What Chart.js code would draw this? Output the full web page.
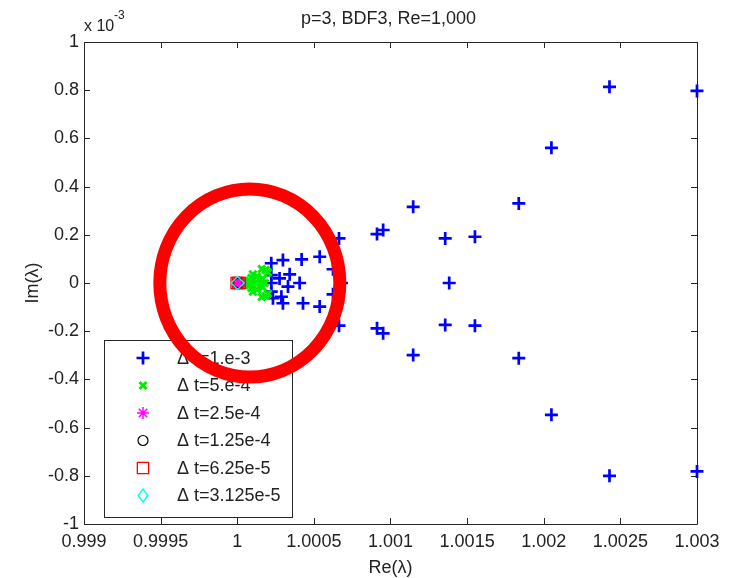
<!DOCTYPE html>
<html>
<head>
<meta charset="utf-8">
<script src="https://cdn.jsdelivr.net/npm/chart.js@4.4.1/dist/chart.umd.min.js"></script>
<style>
  html, body { margin: 0; padding: 0; background: #fff; }
</style>
</head>
<body>
<canvas id="eigChart" width="732" height="578"></canvas>
<script>
/* eigenvalue spectra, one array per time step (Re, Im) */
const dt1e3 = [
  [1.002429, 8.14e-4], [1.003000, 7.97e-4], [1.002050, 5.61e-4], [1.001837, 3.30e-4],
  [1.001148, 3.16e-4], [1.000912, 2.03e-4], [1.000952, 2.20e-4], [1.001357, 1.85e-4],
  [1.001551, 1.92e-4], [1.001383, 0], [1.000664, 1.85e-4], [1.000420, 0.98e-4],
  [1.000538, 1.09e-4], [1.000625, 0.57e-4], [1.000680, 0], [1.000407, 0],
  [1.000429, -0.84e-4], [1.000538, -0.98e-4], [1.000625, -0.47e-4], [1.000664, -1.77e-4],
  [1.000912, -1.88e-4], [1.000952, -2.09e-4], [1.001357, -1.74e-4], [1.001551, -1.77e-4],
  [1.001148, -2.99e-4], [1.001837, -3.12e-4], [1.002050, -5.47e-4], [1.002429, -8.00e-4],
  [1.003000, -7.82e-4],
  [1.000222, 0.82e-4], [1.000298, 0.95e-4], [1.000342, 0.36e-4], [1.000276, 0.19e-4],
  [1.000331, -0.15e-4], [1.000222, 0], [1.000288, -0.57e-4], [1.000233, -0.63e-4],
  [1.000298, -0.84e-4], [1.000222, -0.36e-4], [1.000222, 0.33e-4]
];
const dt5e4 = [
  [1.000045, 0], [1.000062, 0], [1.000080, 1.0e-5], [1.000080, -1.0e-5],
  [1.000093, 2.1e-5], [1.000093, -2.1e-5], [1.000102, 3.6e-5], [1.000102, -3.6e-5],
  [1.000118, 0], [1.000130, 2.7e-5], [1.000130, -2.7e-5], [1.000160, 5.8e-5],
  [1.000160, -5.8e-5], [1.000150, 0], [1.000165, 1.8e-5], [1.000165, -1.8e-5],
  [1.000185, 5.4e-5], [1.000185, -5.4e-5], [1.000180, 0], [1.000200, 4.4e-5],
  [1.000200, -4.4e-5]
];
const dt25e4 = [[1.000003, 0], [1.000012, 3e-6], [1.000012, -3e-6], [1.000020, 0]];
const dt125e4 = [[1.000001, 0], [1.000006, 2e-6], [1.000006, -2e-6]];
const dt625e5 = [[0.999996, 0], [1.000006, 0], [1.000016, 0]];
const dt3125e5 = [[1.000002, 0]];

const seriesLabels = ["Δ t=1.e-3", "Δ t=5.e-4", "Δ t=2.5e-4", "Δ t=1.25e-4", "Δ t=6.25e-5", "Δ t=3.125e-5"];
const seriesData = [dt1e3, dt5e4, dt25e4, dt125e4, dt625e5, dt3125e5];

const xMin = 0.999, xMax = 1.003, xStep = 0.0005;
const yMin = -0.001, yMax = 0.001, yStep = 0.0002;

/* circled region (annotation on the figure) */
const circleCenter = [1.000082, 0];

const FONT = '"Liberation Sans", Arial, sans-serif';
const INK = '#222222';

/* marker look per series */
const markers = [
  { style: "cross",    color: "#0000ff", r: 6.5, w: 2.7 },
  { style: "crossRot", color: "#00ee00", r: 5,   w: 3 },
  { style: "star",     color: "#ff00ff", r: 6,   w: 1.5 },
  { style: "circle",   color: "#000000", r: 5,   w: 1.2 },
  { style: "rect",     color: "#ff0000", r: 8,   w: 1.3 },
  { style: "rectRot",  color: "#00ffff", r: 6.5, w: 1.4 }
];

function buildDatasets() {
  return seriesData.map((pts, i) => ({
    label: seriesLabels[i],
    data: pts.map(p => ({ x: p[0], y: p[1] })),
    pointStyle: markers[i].style,
    pointRadius: markers[i].r,
    pointBorderWidth: markers[i].w,
    borderColor: markers[i].color,
    backgroundColor: "rgba(0,0,0,0)",
    showLine: false,
    clip: false,
    order: seriesData.length - i
  }));
}

/* legend marker drawn by hand */
function drawMarker(ctx, m, x, y) {
  ctx.save();
  ctx.strokeStyle = m.color;
  ctx.lineWidth = m.w;
  ctx.beginPath();
  const r = m.r;
  const d = r * Math.SQRT1_2;
  if (m.style === "cross" || m.style === "star") {
    ctx.moveTo(x - r, y); ctx.lineTo(x + r, y);
    ctx.moveTo(x, y - r); ctx.lineTo(x, y + r);
  }
  if (m.style === "crossRot" || m.style === "star") {
    ctx.moveTo(x - d, y - d); ctx.lineTo(x + d, y + d);
    ctx.moveTo(x - d, y + d); ctx.lineTo(x + d, y - d);
  }
  if (m.style === "circle") ctx.arc(x, y, r, 0, Math.PI * 2);
  if (m.style === "rect") ctx.rect(x - d, y - d, 2 * d, 2 * d);
  if (m.style === "rectRot") {
    ctx.moveTo(x, y - r); ctx.lineTo(x + r * 0.75, y);
    ctx.lineTo(x, y + r); ctx.lineTo(x - r * 0.75, y); ctx.closePath();
  }
  ctx.stroke();
  ctx.restore();
}

/* box + inward ticks on all four sides */
const axesBox = {
  id: "axesBox",
  beforeDatasetsDraw(chart) {
    const { ctx, chartArea: a, scales: { x, y } } = chart;
    const len = 6;
    ctx.save();
    ctx.strokeStyle = "#262626";
    ctx.lineWidth = 1;
    ctx.beginPath();
    ctx.rect(a.left + 0.5, a.top + 0.5, a.right - a.left, a.bottom - a.top);
    x.ticks.forEach(t => {
      const px = Math.round(x.getPixelForValue(t.value)) + 0.5;
      ctx.moveTo(px, a.bottom); ctx.lineTo(px, a.bottom - len);
      ctx.moveTo(px, a.top); ctx.lineTo(px, a.top + len);
    });
    y.ticks.forEach(t => {
      const py = Math.round(y.getPixelForValue(t.value)) + 0.5;
      ctx.moveTo(a.left, py); ctx.lineTo(a.left + len, py);
      ctx.moveTo(a.right, py); ctx.lineTo(a.right - len, py);
    });
    ctx.stroke();
    ctx.restore();
  }
};

/* titles, legend, exponent label, red circle */
const decorations = {
  id: "decorations",
  afterDraw(chart) {
    const { ctx, chartArea: a, scales: { x, y } } = chart;
    const cx = (a.left + a.right) / 2;
    ctx.save();
    ctx.fillStyle = INK;
    ctx.font = "18px " + FONT;
    ctx.textAlign = "center";
    ctx.textBaseline = "alphabetic";
    ctx.fillText("p=3, BDF3, Re=1,000", cx - 2, 24);
    ctx.fillText("Re(λ)", cx, 573);

    ctx.save();
    ctx.translate(33, (a.top + a.bottom) / 2);
    ctx.rotate(-Math.PI / 2);
    ctx.textBaseline = "middle";
    ctx.fillText("Im(λ)", 0, 0);
    ctx.restore();

    ctx.textAlign = "left";
    ctx.font = "16px " + FONT;
    ctx.fillText("x 10", a.left, 31);
    ctx.font = "12px " + FONT;
    ctx.fillText("-3", a.left + 30, 19);

    // legend box
    const lx = 104, ly = 340, lw = 188, lh = 177;
    ctx.fillStyle = "#ffffff";
    ctx.fillRect(lx, ly, lw, lh);
    ctx.strokeStyle = "#262626";
    ctx.lineWidth = 1;
    ctx.strokeRect(lx + 0.5, ly + 0.5, lw, lh);
    ctx.font = "18px " + FONT;
    ctx.fillStyle = INK;
    ctx.textBaseline = "middle";
    seriesLabels.forEach((lab, i) => {
      const ry = 358 + i * 27.5;
      drawMarker(ctx, markers[i], 143, ry);
      ctx.fillText(lab, 177, ry + 1);
    });

    // red circle
    const ex = x.getPixelForValue(circleCenter[0]);
    const ey = y.getPixelForValue(circleCenter[1]);
    ctx.strokeStyle = "#ff0000";
    ctx.lineWidth = 13;
    ctx.beginPath();
    ctx.ellipse(ex, ey, 90, 94, 0, 0, Math.PI * 2);
    ctx.stroke();
    ctx.restore();
  }
};

function fmt(v) {
  return String(Number(v.toFixed(6)));
}

new Chart(document.getElementById("eigChart"), {
  type: "scatter",
  data: { datasets: buildDatasets() },
  options: {
    responsive: false,
    animation: false,
    layout: { padding: { top: 42, right: 35, left: 0, bottom: 0 } },
    plugins: {
      legend: { display: false },
      tooltip: { enabled: false },
      title: { display: false }
    },
    scales: {
      x: {
        type: "linear",
        min: xMin, max: xMax,
        afterFit(s) { s.height = 54; },
        grid: { display: false, drawTicks: false },
        border: { display: false },
        ticks: {
          stepSize: xStep,
          autoSkip: false,
          maxRotation: 0,
          padding: 7,
          color: INK,
          font: { family: FONT, size: 18 },
          callback: v => fmt(v)
        }
      },
      y: {
        type: "linear",
        min: yMin, max: yMax,
        afterFit(s) { s.width = 84; },
        grid: { display: false, drawTicks: false },
        border: { display: false },
        ticks: {
          stepSize: yStep,
          autoSkip: false,
          padding: 5,
          color: INK,
          font: { family: FONT, size: 18 },
          callback: v => fmt(v * 1000)
        }
      }
    }
  },
  plugins: [axesBox, decorations]
});
</script>
</body>
</html>
